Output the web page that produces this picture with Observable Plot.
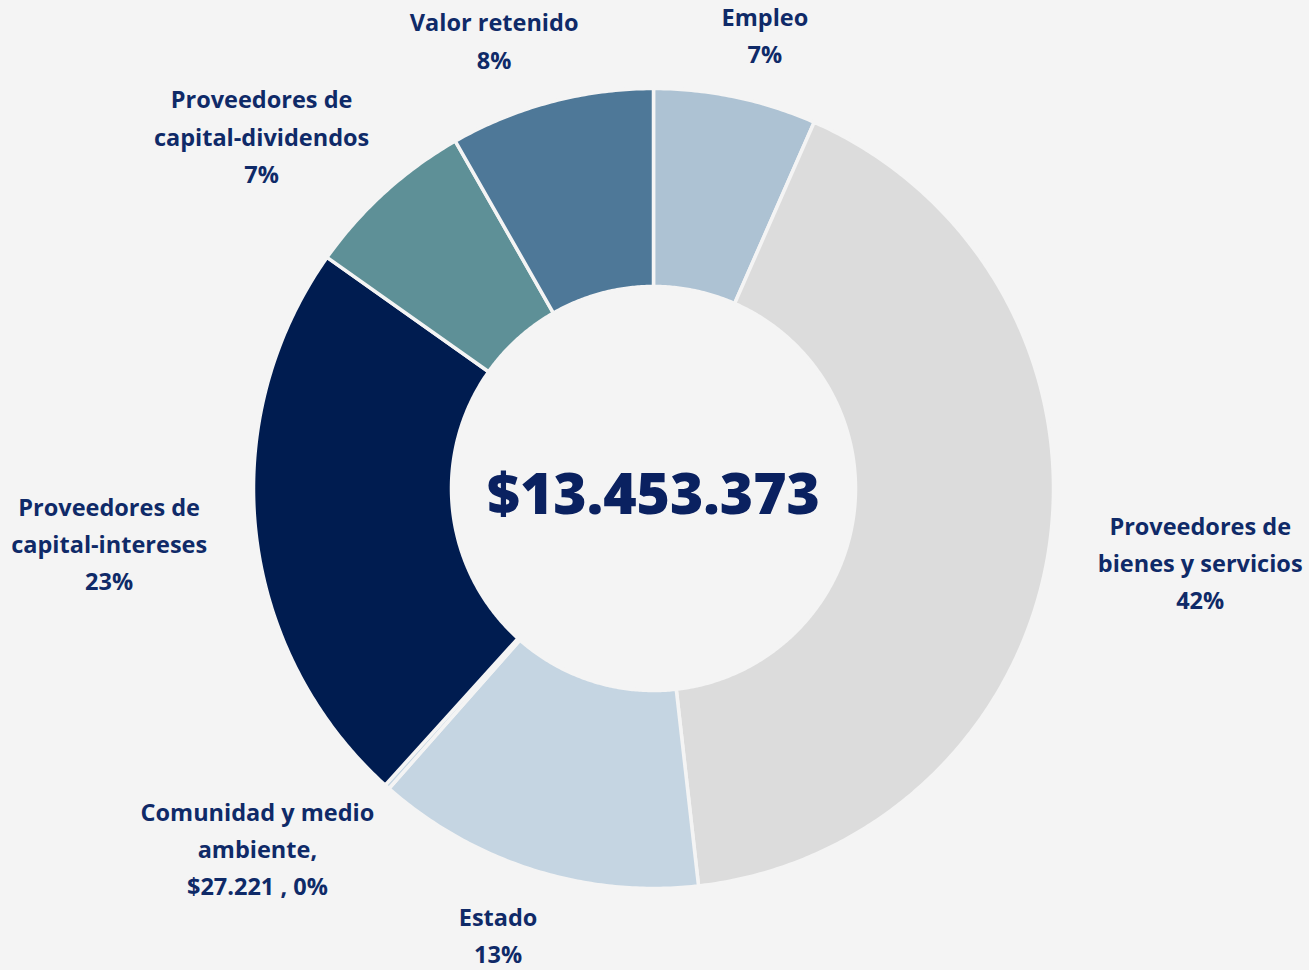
<!DOCTYPE html>
<html>
<head>
<meta charset="utf-8">
<script src="https://cdn.jsdelivr.net/npm/d3@7"></script>
<script src="https://cdn.jsdelivr.net/npm/@observablehq/plot@0.6"></script>
<style>
  html, body { margin: 0; padding: 0; background: #f4f4f4; }
  #chart svg { display: block; }
  g[aria-label="slice-labels"] text { letter-spacing: 1.1px; }
  g[aria-label="center-total"] text { letter-spacing: 1px; }
</style>
</head>
<body>
<div id="chart"></div>
<script>
// ---- data (clockwise from 12 o'clock) ----
const categories = [
  "Empleo",
  "Proveedores de\nbienes y servicios",
  "Estado",
  "Comunidad y medio\nambiente,",
  "Proveedores de\ncapital-intereses",
  "Proveedores de\ncapital-dividendos",
  "Valor retenido"
];
const values = [885000, 5600000, 1789000, 27221, 3108000, 934000, 1110152];
const colors = ["#adc2d3", "#dcdcdc", "#c5d5e2", "#c5d5e2", "#001c50", "#5e9097", "#4e7898"];

// ---- layout constants ----
const W = 1309, H = 970;
const CX = 653, CY = 488, RPX = 400;       // center & outer radius in px
const R_OUT = 1, R_IN = 0.505, R_LABEL = 1.1;
const BG = "#f4f4f4", TEXT = "#0f2a68";
const LABEL_FONT = 23.5, LABEL_LH = 1.58, LABEL_LS = 1.1;

const total = d3.sum(values);
const fmtNum = d3.formatLocale({decimal: ",", thousands: ".", grouping: [3], currency: ["$", ""]}).format("$,.0f");

// slices
let acc = 0;
const slices = categories.map((name, i) => {
  const a0 = acc / total * 2 * Math.PI;
  acc += values[i];
  const a1 = acc / total * 2 * Math.PI;
  return {name, value: values[i], a0, a1};
});

// polygon outline points for each ring segment (data units, y up)
const polyPoints = slices.flatMap(s => {
  const n = Math.max(2, Math.ceil((s.a1 - s.a0) / (Math.PI / 360)));
  const pts = [];
  for (let k = 0; k <= n; k++) {
    const a = s.a0 + (s.a1 - s.a0) * k / n;
    pts.push({name: s.name, x: R_OUT * Math.sin(a), y: R_OUT * Math.cos(a)});
  }
  for (let k = n; k >= 0; k--) {
    const a = s.a0 + (s.a1 - s.a0) * k / n;
    pts.push({name: s.name, x: R_IN * Math.sin(a), y: R_IN * Math.cos(a)});
  }
  pts.push({...pts[0]});
  return pts;
});

// labels
const ctx = document.createElement("canvas").getContext("2d");
ctx.font = `700 ${LABEL_FONT}px 'Open Sans'`;
const labels = slices.map(s => {
  const pct = Math.round(s.value / total * 100);
  const valueLine = pct === 0 ? `${fmtNum(s.value)} , ${pct}%` : `${pct}%`;
  const text = `${s.name}\n${valueLine}`;
  const lines = text.split("\n");
  const w = d3.max(lines, l => ctx.measureText(l).width + l.length * LABEL_LS);
  const h = lines.length * LABEL_FONT * LABEL_LH;
  const m = (s.a0 + s.a1) / 2;
  const sn = Math.sin(m), cs = Math.cos(m);
  const px = CX + R_LABEL * RPX * sn + Math.sign(sn) * Math.sqrt(Math.abs(sn)) * w / 2;
  const py = CY - R_LABEL * RPX * cs - cs * h * 0.35;
  return {text, x: (px - CX) / RPX, y: (CY - py) / RPX};
});

const center = [{x: 0, y: 0, text: fmtNum(total)}];

const chart = Plot.plot({
  width: W,
  height: H,
  margin: 0,
  x: {domain: [-CX / RPX, (W - CX) / RPX], axis: null},
  y: {domain: [-(H - CY) / RPX, CY / RPX], axis: null},
  color: {domain: categories, range: colors},
  style: {background: BG, fontFamily: "'Open Sans', sans-serif", color: TEXT},
  marks: [
    Plot.line(polyPoints, {
      x: "x", y: "y", z: "name", fill: "name",
      stroke: BG, strokeWidth: 3.5, strokeLinejoin: "round", curve: "linear"
    }),
    Plot.text(labels, {
      x: "x", y: "y", text: "text", ariaLabel: "slice-labels",
      fill: TEXT, fontSize: LABEL_FONT, fontWeight: 700, lineHeight: LABEL_LH,
      textAnchor: "middle", lineAnchor: "middle"
    }),
    Plot.text(center, {
      x: "x", y: "y", text: "text", ariaLabel: "center-total",
      fill: "#0a2160", fontSize: 57, fontWeight: 800, dy: 7,
      textAnchor: "middle", lineAnchor: "middle"
    })
  ]
});
document.getElementById("chart").appendChild(chart);
</script>
</body>
</html>
